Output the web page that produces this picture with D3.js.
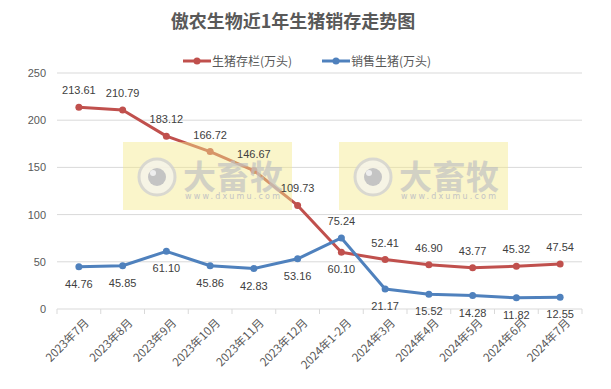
<!DOCTYPE html>
<html>
<head>
<meta charset="utf-8">
<script src="https://cdn.jsdelivr.net/npm/d3@7"></script>
<style>
  body { margin: 0; background: #fff; }
  svg { font-family: "Noto Sans CJK SC", "Microsoft YaHei", sans-serif; }
</style>
</head>
<body>
<div id="chart"></div>
<script>
// chart data
const months = ["2023年7月", "2023年8月", "2023年9月", "2023年10月", "2023年11月", "2023年12月",
  "2024年1-2月", "2024年3月", "2024年4月", "2024年5月", "2024年6月", "2024年7月"];
const stock = [213.61, 210.79, 183.12, 166.72, 146.67, 109.73, 60.10, 52.41, 46.90, 43.77, 45.32, 47.54];
const sold = [44.76, 45.85, 61.10, 45.86, 42.83, 53.16, 75.24, 21.17, 15.52, 14.28, 11.82, 12.55];
const yTicks = [0, 50, 100, 150, 200, 250];
// label above (true) or below (false) the point
const stockUp = [true, true, true, true, true, true, false, true, true, true, true, true];
const soldUp = [false, false, false, false, false, false, true, false, false, false, false, false];

const W = 611, H = 389;
const plotL = 57, plotR = 582, plotT = 73, plotB = 309;

const svg = d3.select('#chart').append('svg')
    .attr('width', W)
    .attr('height', H);

const x = d3.scaleBand().domain(months).range([plotL, plotR]);
const y = d3.scaleLinear().domain([0, 250]).range([plotB, plotT]);
const cx = d => x(d) + x.bandwidth() / 2;

// title
svg.append('text')
    .attr('x', 293).attr('y', 28)
    .attr('text-anchor', 'middle')
    .attr('font-size', 18).attr('font-weight', 'bold')
    .attr('fill', '#595959')
    .text('傲农生物近1年生猪销存走势图');

// grid
svg.append('g').selectAll('line')
    .data(yTicks.filter(t => t > 0))
    .enter().append('line')
    .attr('x1', plotL).attr('x2', plotR)
    .attr('y1', d => y(d)).attr('y2', d => y(d))
    .attr('stroke', '#d9d9d9');

// y axis labels
svg.append('g').selectAll('text')
    .data(yTicks)
    .enter().append('text')
    .attr('x', 46).attr('y', d => y(d) + 4)
    .attr('text-anchor', 'end')
    .attr('font-size', 11).attr('fill', '#595959')
    .attr('font-family', 'Liberation Sans, sans-serif')
    .text(d => d);

// x axis
const xAxis = svg.append('g').attr('transform', `translate(0,${plotB})`);
xAxis.append('line').attr('x1', plotL).attr('x2', plotR).attr('stroke', '#d9d9d9');
xAxis.selectAll('.tk')
    .data(months.concat(['end']))
    .enter().append('line')
    .attr('x1', (d, i) => plotL + i * x.bandwidth())
    .attr('x2', (d, i) => plotL + i * x.bandwidth())
    .attr('y1', 0).attr('y2', 5)
    .attr('stroke', '#d9d9d9');
xAxis.selectAll('text')
    .data(months)
    .enter().append('text')
    .attr('transform', d => `translate(${cx(d) + 5},9) rotate(-45)`)
    .attr('text-anchor', 'end')
    .attr('dy', '0.7em')
    .attr('font-size', 11.5).attr('fill', '#595959')
    .text(d => d);

// series
const series = [
  { name: '生猪存栏(万头)', values: stock, up: stockUp, color: '#c0504d' },
  { name: '销售生猪(万头)', values: sold, up: soldUp, color: '#4f81bd' }
];

const line = d3.line().x((d, i) => cx(months[i])).y(d => y(d));

series.forEach(s => {
  svg.append('path')
      .datum(s.values)
      .attr('d', line)
      .attr('fill', 'none')
      .attr('stroke', s.color)
      .attr('stroke-width', 3)
      .attr('stroke-linejoin', 'round');
  svg.append('g').selectAll('circle')
      .data(s.values)
      .enter().append('circle')
      .attr('cx', (d, i) => cx(months[i]))
      .attr('cy', d => y(d))
      .attr('r', 3.5)
      .attr('fill', s.color);
});

// watermark boxes (over the lines, semi transparent)
const marks = [123, 339];
marks.forEach(mx => {
  const g = svg.append('g').attr('transform', `translate(${mx},142)`);
  g.append('rect').attr('width', 169).attr('height', 68)
      .attr('fill', '#f3e98a').attr('opacity', 0.45);
  g.append('circle').attr('cx', 34).attr('cy', 35).attr('r', 18)
      .attr('fill', '#f6f4ec').attr('stroke', '#d2d2d2').attr('stroke-width', 3).attr('opacity', 0.8);
  g.append('circle').attr('cx', 34).attr('cy', 35).attr('r', 9)
      .attr('fill', '#c4c4c4');
  g.append('circle').attr('cx', 30).attr('cy', 31).attr('r', 3)
      .attr('fill', '#eeeeee');
  g.append('text').attr('x', 60).attr('y', 47)
      .attr('font-size', 33).attr('font-weight', 'bold')
      .attr('fill', '#c2c2c2').attr('opacity', 0.7)
      .attr('textLength', 100)
      .text('大畜牧');
  g.append('text').attr('x', 62).attr('y', 57)
      .attr('font-size', 8).attr('fill', '#c4c4c4')
      .attr('font-family', 'DejaVu Sans, sans-serif')
      .attr('letter-spacing', 1)
      .attr('textLength', 96)
      .text('www.dxumu.com');
});

// data labels
series.forEach(s => {
  svg.append('g').selectAll('text')
      .data(s.values)
      .enter().append('text')
      .attr('x', (d, i) => cx(months[i]))
      .attr('y', (d, i) => s.up[i] ? y(d) - 13 : y(d) + 21)
      .attr('text-anchor', 'middle')
      .attr('font-size', 11).attr('fill', '#404040')
      .attr('font-family', 'Liberation Sans, sans-serif')
      .text(d => d.toFixed(2));
});

// legend
const legend = svg.append('g').attr('transform', 'translate(183,61)');
series.forEach((s, i) => {
  const lg = legend.append('g').attr('transform', `translate(${i * 139},0)`);
  lg.append('line').attr('x1', 0).attr('x2', 28).attr('stroke', s.color).attr('stroke-width', 3);
  lg.append('circle').attr('cx', 14).attr('r', 3.5).attr('fill', s.color);
  lg.append('text').attr('x', 29).attr('y', 4.5)
      .attr('font-size', 12).attr('fill', '#595959')
      .text(s.name);
});
</script>
</body>
</html>
